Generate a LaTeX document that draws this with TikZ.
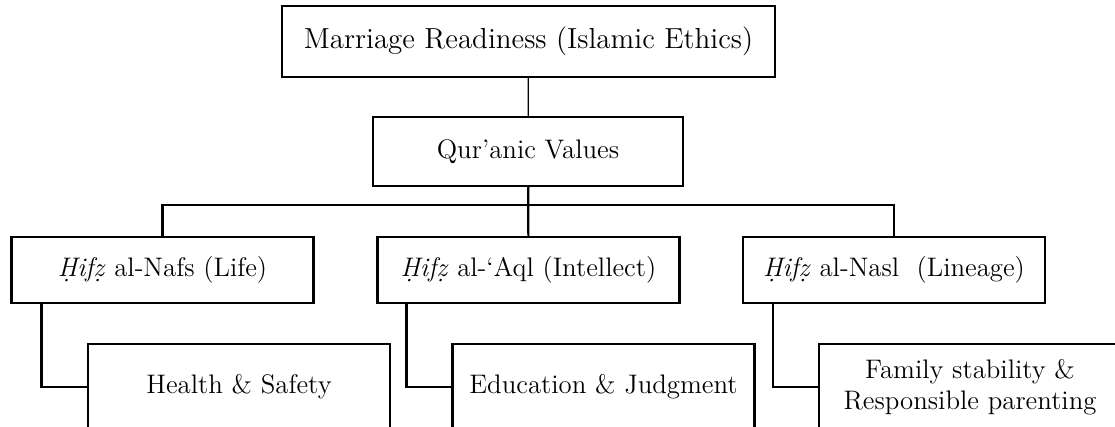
\documentclass[tikz,border=0pt]{standalone}
\usepackage{amsmath}
\usetikzlibrary{calc}
\newcommand\hifz{\textit{\d{H}if\d{z}}}

\begin{document}
\begin{tikzpicture}[x=0.5pt,y=-0.5pt,
    box/.style={draw,line width=1.1pt,align=center,inner sep=0pt,
      minimum width=151pt,minimum height=33pt,font=\fontsize{13.4}{15.5}\selectfont},
    subbox/.style={box,minimum height=43pt},
    link/.style={line width=1.1pt}]
    \clip (0,0) rectangle (1115,427); % Clips the picture...

    \node[box,line width=0.6pt,minimum width=246.5pt,minimum height=35.5pt,
      font=\fontsize{14.5}{17}\selectfont] (ethics) at (528.5,41.5) {Marriage Readiness (Islamic Ethics)};
    \node[box,minimum width=155pt,minimum height=34.5pt] (quran) at (528,151.5) {Qur'anic Values};
    \node[box] (nafs) at (162.5,270) {\hifz{} al-Nafs (Life)};
    \node[box] (aql) at (528.5,270) {\hifz{} al-`Aql (Intellect)};
    \node[box] (nasl) at (894,270) {\hifz{} al-Nasl\ \ (Lineage)};
    \node[subbox] (health) at (239,387) {Health \& Safety};
    \node[subbox] (educ) at (603.5,387) {Education \& Judgment};
    \node[subbox] (family) at (970,387) {Family stability \&\\Responsible parenting};

    \coordinate (bus) at (528,205);
    \draw[line width=0.6pt] (ethics) -- (quran);
    \draw[link] (quran) -- (aql);
    \draw[link] (nafs.north) |- (bus) -| (nasl.north);
    \draw[link] ($(nafs.south west)+(31,0)$) |- (health.west);
    \draw[link] ($(aql.south west)+(30,0)$) |- (educ.west);
    \draw[link] ($(nasl.south west)+(31,0)$) |- (family.west);
  \end{tikzpicture}
\end{document}
